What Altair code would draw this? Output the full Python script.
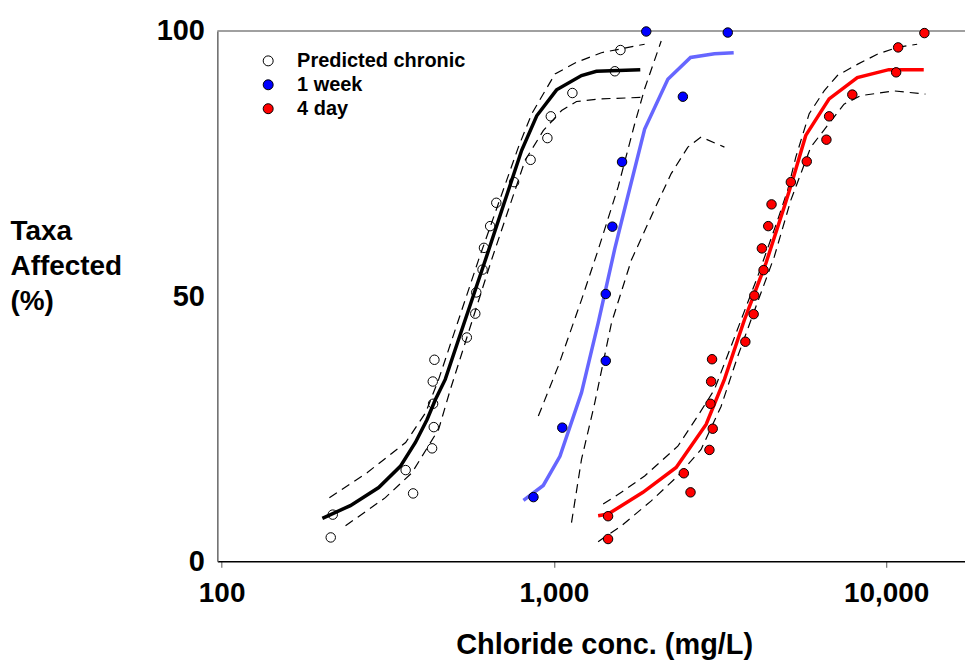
import altair as alt
import pandas as pd

# ---- observed points ----
chronic_conc = [213, 216, 377, 358, 430, 435, 433, 432, 437, 547, 580, 584, 610, 616, 643, 671, 759, 851, 956, 979, 1137, 1526, 1586]
chronic_pct = [4.5, 8.8, 12.8, 17.2, 21.3, 25.3, 29.7, 33.9, 38.0, 42.2, 46.7, 50.7, 55.0, 59.1, 63.2, 67.6, 71.5, 75.7, 79.8, 83.9, 88.3, 92.4, 96.4]

week_conc = [868, 1060, 1433, 1433, 1500, 1604, 2445, 1897, 3337]
week_pct = [12.1, 25.2, 37.8, 50.4, 63.1, 75.3, 87.6, 99.9, 99.7]

day_conc = [1456, 1456, 2578, 2461, 2939, 3007, 2960, 2974, 2993, 3770, 3993, 4012, 4277, 4227, 4418, 4520, 5167, 5770, 6612, 6737, 7912, 10720, 10870, 13040]
day_pct = [4.2, 8.5, 13.0, 16.6, 21.0, 25.0, 29.7, 33.9, 38.1, 41.4, 46.6, 50.1, 54.9, 59.0, 63.2, 67.3, 71.5, 75.4, 79.5, 83.9, 88.0, 92.2, 96.9, 99.6]

# ---- fitted curves ----
chronic_fit_conc = [201, 244, 297, 345, 383, 415, 440, 471, 519, 622, 709, 800, 888, 1019, 1211, 1343, 1820]
chronic_fit_pct = [8.1, 10.5, 13.9, 17.9, 22.4, 26.7, 30.5, 34.3, 42.2, 56.8, 67.6, 77.5, 84.0, 88.9, 91.6, 92.4, 92.7]
chronic_up_conc = [211, 274, 358, 411, 450, 593, 782, 858, 1008, 1170, 1390, 1876]
chronic_up_pct = [12.0, 16.7, 22.4, 28.0, 34.3, 56.8, 78.1, 84.4, 91.9, 94.1, 95.9, 97.5]
chronic_lo_conc = [236, 311, 374, 450, 488, 649, 819, 929, 1055, 1170, 1390, 1897]
chronic_lo_pct = [6.7, 12.0, 16.7, 24.9, 32.4, 56.8, 75.6, 81.2, 85.0, 86.7, 87.2, 87.5]

week_fit_conc = [810, 929, 1043, 1211, 1359, 1526, 1652, 1876, 2203, 2578, 3043, 3477]
week_fit_pct = [11.5, 14.3, 19.8, 31.8, 44.9, 59.0, 67.7, 81.5, 90.9, 95.0, 95.7, 95.9]
week_up_conc = [898, 1031, 1211, 1359, 1561, 1751, 1876, 2104]
week_up_pct = [27.4, 36.8, 49.3, 58.7, 70.6, 82.5, 89.1, 98.1]
week_lo_conc = [1130, 1211, 1328, 1490, 1711, 2033, 2255, 2531, 2774, 3261]
week_lo_pct = [7.3, 19.2, 29.9, 44.9, 56.8, 67.1, 73.1, 78.1, 80.0, 78.1]

day_fit_conc = [1359, 1456, 1854, 2334, 2872, 3261, 3744, 4347, 4935, 5226, 5730, 6737, 8191, 10190, 12980]
day_fit_pct = [8.6, 8.9, 13.0, 17.7, 25.8, 34.3, 45.5, 56.2, 66.8, 71.8, 80.3, 87.2, 91.2, 92.7, 92.7]
day_up_conc = [1407, 1597, 1876, 2361, 2711, 3043, 3413, 3659, 4106, 4713, 5050, 5348, 5868, 6508, 7134, 8191, 9404, 10800, 12400]
day_up_pct = [10.8, 13.0, 16.1, 21.7, 27.4, 32.4, 40.5, 45.5, 53.7, 64.3, 69.9, 76.2, 84.4, 88.7, 91.6, 93.7, 95.6, 96.9, 97.5]
day_lo_conc = [1359, 1597, 1964, 2361, 2774, 3186, 3574, 3920, 4605, 5167, 5933, 7470, 8381, 10550, 13130]
day_lo_pct = [3.7, 6.7, 11.4, 16.1, 21.1, 29.2, 38.6, 45.5, 57.4, 68.1, 78.1, 86.2, 87.8, 88.7, 88.1]

series_names = ["Predicted chronic", "1 week", "4 day"]
fit_colors = ["#000000", "#6666ff", "#ff0000"]
point_fills = ["transparent", "#0000ff", "#ff0000"]

FONT = "Liberation Sans"


def frame(name, conc, pct):
    return pd.DataFrame({"conc": conc, "pct": pct, "series": name})


points = pd.concat([
    frame(series_names[0], chronic_conc, chronic_pct),
    frame(series_names[1], week_conc, week_pct),
    frame(series_names[2], day_conc, day_pct),
])
fits = [
    frame(series_names[0], chronic_fit_conc, chronic_fit_pct),
    frame(series_names[1], week_fit_conc, week_fit_pct),
    frame(series_names[2], day_fit_conc, day_fit_pct),
]
bands = pd.concat([
    frame("c_up", chronic_up_conc, chronic_up_pct),
    frame("c_lo", chronic_lo_conc, chronic_lo_pct),
    frame("w_up", week_up_conc, week_up_pct),
    frame("w_lo", week_lo_conc, week_lo_pct),
    frame("d_up", day_up_conc, day_up_pct),
    frame("d_lo", day_lo_conc, day_lo_pct),
])

x_enc = alt.X(
    "conc:Q",
    scale=alt.Scale(type="log", domain=[97.07, 17276], nice=False),
    axis=alt.Axis(
        values=[100, 1000, 10000], format=",", grid=False,
        title="Chloride conc. (mg/L)", titleX=388, titleY=92,
        titleAlign="center", titleBaseline="alphabetic",
        titleFontSize=29, titleFont=FONT, titleFontWeight="bold", titleColor="black",
        labelFontSize=28, labelFont=FONT, labelFontWeight="bold", labelColor="black",
        labelPadding=12, labelFlush=False, tickSize=6, tickColor="#555",
        domainColor="black", domainWidth=1.5,
    ),
)
y_enc = alt.Y(
    "pct:Q",
    scale=alt.Scale(domain=[0, 100], nice=False),
    axis=alt.Axis(
        values=[0, 50, 100], grid=False, ticks=False,
        title=["Taxa", "Affected", "(%)"], titleAngle=0, titleAlign="left",
        titleBaseline="alphabetic", titleX=-208, titleY=209, titleLineHeight=35,
        titleFontSize=28, titleFont=FONT, titleFontWeight="bold", titleColor="black",
        labelFontSize=29, labelFont=FONT, labelFontWeight="bold", labelColor="black",
        labelPadding=13, domainColor="#666", domainWidth=1.5,
    ),
)

top_rule = alt.Chart(pd.DataFrame({"pct": [100]})).mark_rule(
    color="#808080", strokeWidth=1.5
).encode(y=y_enc)

dashed = alt.Chart(bands).mark_line(
    color="black", strokeWidth=1.2, strokeDash=[9, 6]
).encode(x=x_enc, y=y_enc, detail="series:N")

fit_layers = [
    alt.Chart(df).mark_line(color=c, strokeWidth=3.5).encode(x=x_enc, y=y_enc)
    for df, c in zip(fits, fit_colors)
]

pts = alt.Chart(points).mark_circle(
    size=90, stroke="black", strokeWidth=1, opacity=1
).encode(
    x=x_enc, y=y_enc,
    fill=alt.Fill(
        "series:N",
        scale=alt.Scale(domain=series_names, range=point_fills),
        legend=alt.Legend(
            title=None, orient="none", legendX=41, legendY=20, padding=0,
            symbolType="circle", symbolSize=100, symbolStrokeColor="black",
            symbolStrokeWidth=1, symbolOpacity=1,
            labelFont=FONT, labelFontSize=20, labelFontWeight="bold", labelColor="black",
            labelOffset=19, rowPadding=4, labelLimit=0,
            labelExpr="length(datum.label) > 10 ? datum.label : '\u00a0' + datum.label",
        ),
    ),
)

chart = alt.layer(top_rule, dashed, *fit_layers, pts).properties(
    width=750, height=532,
    padding={"left": 210, "top": 22, "right": 0, "bottom": 104},
    autosize=alt.AutoSizeParams(type="none"),
    background="white",
).configure_view(stroke=None)

chart.save("out.html", embed_options={"renderer": "svg", "actions": False})
